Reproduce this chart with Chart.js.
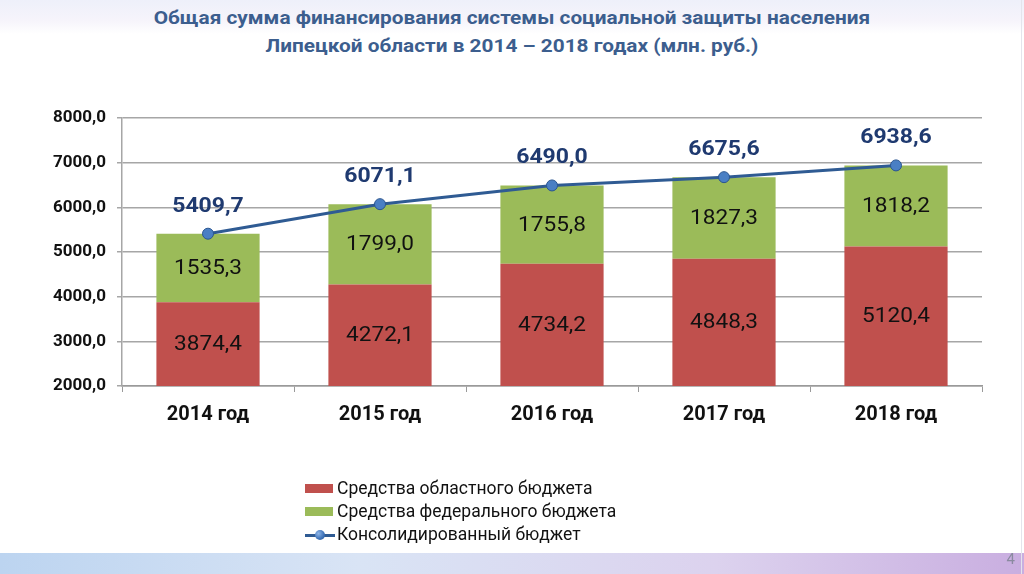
<!DOCTYPE html>
<html lang="ru">
<head>
<meta charset="UTF-8">
<title>Социальная защита населения</title>
<script src="https://cdn.jsdelivr.net/npm/chart.js"></script>
<style>
    html, body { margin: 0; padding: 0; }
    body {
        width: 1024px;
        height: 574px;
        position: relative;
        overflow: hidden;
        background: #fff;
        font-family: Roboto, "Open Sans", sans-serif;
    }
    .top-band {
        position: absolute; left: 0; top: 0; width: 1024px; height: 34px;
        background: linear-gradient(to bottom, #eef0fa 0%, #f6f4fb 60%, #ffffff 100%);
    }
    .right-edge {
        position: absolute; left: 1021px; top: 0; width: 1px; height: 574px; background: #e4e4ec;
    }
    .bottom-band {
        position: absolute; left: 0; top: 553px; width: 1024px; height: 21px;
        background: linear-gradient(to right, #bcd4f0 0%, #d9e4f5 35%, #dcd2ee 70%, #c9aee0 100%);
    }
    .page-num {
        position: absolute; right: 9px; top: 550px;
        font-size: 15px; color: #8a8aa0;
    }
    .title {
        position: absolute; left: 0; top: 4px; width: 1024px;
        text-align: center;
        color: #3c5e8e;
        font-weight: bold;
        font-size: 19px;
        line-height: 28px;
        transform: scaleX(1.095);
        transform-origin: 512px 0;
    }
    #chart { position: absolute; left: 0; top: 0; }
    .legend {
        position: absolute; left: 305px; top: 477px;
        font-size: 17.5px; color: #111;
        line-height: 23px;
    }
    .legend div { display: flex; align-items: center; }
    .legend .box { width: 28px; height: 9px; margin-right: 4px; }
    .legend .ln { width: 30px; height: 14px; margin-right: 2px; position: relative; }
    .legend .ln::before {
        content: ""; position: absolute; left: 0; right: 0; top: 6px; height: 3px; background: #2f5b93;
    }
    .legend .ln::after {
        content: ""; position: absolute; left: 10px; top: 2px; width: 10px; height: 10px; border-radius: 50%;
        background: radial-gradient(circle at 35% 35%, #8fb6e8, #3d72b8 60%, #2a5590);
    }
</style>
</head>
<body>
<div class="top-band"></div>
<div class="title">Общая сумма финансирования системы социальной защиты населения<br>Липецкой области в 2014 – 2018 годах (млн. руб.)</div>
<canvas id="chart" width="1024" height="574"></canvas>
<div class="legend">
    <div><span class="box" style="background:#c0504d"></span>Средства областного бюджета</div>
    <div><span class="box" style="background:#9bbb59"></span>Средства федерального бюджета</div>
    <div><span class="ln"></span>Консолидированный бюджет</div>
</div>
<div class="bottom-band"></div>
<div class="right-edge"></div>
<div class="page-num">4</div>

<script>
    const years = ["2014 год", "2015 год", "2016 год", "2017 год", "2018 год"];
    const regionalBudget = [3874.4, 4272.1, 4734.2, 4848.3, 5120.4];
    const federalBudget = [1535.3, 1799.0, 1755.8, 1827.3, 1818.2];
    const consolidated = [5409.7, 6071.1, 6490.0, 6675.6, 6938.6];
    const yTicks = [2000, 3000, 4000, 5000, 6000, 7000, 8000];

    const fmt = v => v.toFixed(1).replace(".", ",");

    // text slightly stretched sideways, like the original slide
    function wideText(ctx, text, x, y, sx) {
        ctx.save();
        ctx.translate(x, y);
        ctx.scale(sx, 1);
        ctx.fillText(text, 0, 0);
        ctx.restore();
    }

    // value labels: bars centred in visible part, line values above points
    const valueLabels = {
        id: "valueLabels",
        afterDatasetsDraw(chart) {
            const ctx = chart.ctx;
            const area = chart.chartArea;
            ctx.save();
            ctx.textAlign = "center";
            ctx.textBaseline = "middle";
            chart.data.datasets.forEach((ds, i) => {
                const meta = chart.getDatasetMeta(i);
                meta.data.forEach((el, j) => {
                    if (ds.type === "line") {
                        ctx.font = "bold 20px Roboto, 'Open Sans', sans-serif";
                        ctx.fillStyle = "#1f3a70";
                        wideText(ctx, fmt(ds.data[j]), el.x, el.y - 27, 1.15);
                    } else {
                        const top = Math.max(Math.min(el.y, el.base), area.top);
                        const bottom = Math.min(Math.max(el.y, el.base), area.bottom);
                        ctx.font = "20px Roboto, 'Open Sans', sans-serif";
                        ctx.fillStyle = "#111";
                        wideText(ctx, fmt(ds.data[j]), el.x, (top + bottom) / 2 + 1, 1.13);
                    }
                });
            });
            ctx.restore();
        }
    };

    new Chart(document.getElementById("chart"), {
        data: {
            labels: years,
            datasets: [
                {
                    type: "line",
                    label: "Консолидированный бюджет",
                    data: consolidated,
                    borderColor: "#2f5b93",
                    borderWidth: 3,
                    pointRadius: 5.5,
                    pointBackgroundColor: "#4a7fc4",
                    pointBorderColor: "#2a5590",
                    pointBorderWidth: 1,
                    tension: 0,
                    order: 0
                },
                {
                    type: "bar",
                    label: "Средства областного бюджета",
                    data: regionalBudget,
                    backgroundColor: "#c0504d",
                    stack: "s",
                    order: 1
                },
                {
                    type: "bar",
                    label: "Средства федерального бюджета",
                    data: federalBudget,
                    backgroundColor: "#9bbb59",
                    stack: "s",
                    order: 1
                }
            ]
        },
        options: {
            responsive: false,
            animation: false,
            layout: { padding: { left: 0, top: 118, right: 42, bottom: 138 } },
            plugins: {
                legend: { display: false },
                tooltip: { enabled: false }
            },
            datasets: {
                bar: { categoryPercentage: 1, barPercentage: 0.6 }
            },
            scales: {
                x: {
                    stacked: true,
                    afterFit: s => { s.height = 50; },
                    grid: { drawOnChartArea: false, color: "#9a9a9a", tickLength: 6, lineWidth: 1 },
                    border: { color: "#9a9a9a", width: 1.5 },
                    ticks: {
                        color: "#111",
                        padding: 11,
                        font: { family: "Roboto, 'Open Sans', sans-serif", size: 20, weight: "bold" }
                    }
                },
                y: {
                    stacked: true,
                    min: 2000,
                    max: 8000,
                    afterFit: s => { s.width = 122; },
                    afterBuildTicks: s => { s.ticks = yTicks.map(v => ({ value: v })); },
                    grid: { color: "#a6a6a6", lineWidth: 1.5, tickLength: 5 },
                    border: { color: "#a6a6a6", width: 1.5 },
                    ticks: {
                        color: "#111",
                        padding: 11,
                        callback: v => fmt(v),
                        font: { family: "Roboto, 'Open Sans', sans-serif", size: 17, weight: "bold" }
                    }
                }
            }
        },
        plugins: [valueLabels]
    });
</script>
</body>
</html>
